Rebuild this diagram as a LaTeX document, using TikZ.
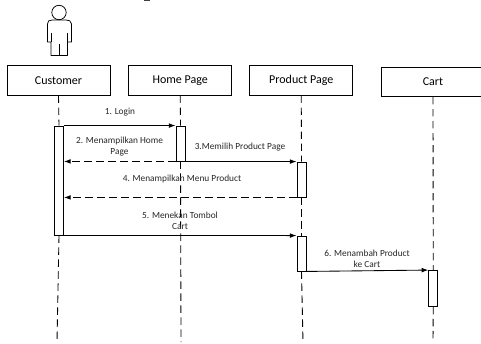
\documentclass[tikz,border=0pt]{standalone}
\usepackage{fontspec}
\setmainfont{Carlito}
\usetikzlibrary{arrows.meta}
\tikzset{
  x=0.75pt,y=-0.75pt,
  objbox/.style={draw,line width=0.65pt,minimum width=77.25pt,minimum height=22pt,inner sep=0pt,font=\fontsize{9}{11}\selectfont,fill=white},
  actbox/.style={draw,line width=0.65pt,minimum width=6.75pt,inner sep=0pt,fill=white},
  life/.style={line width=0.65pt,dash pattern=on 5.5pt off 3.5pt},
  msg/.style={line width=0.65pt,-{Latex[length=5pt,width=3.5pt]}},
  ret/.style={msg,dash pattern=on 5.5pt off 3.5pt},
  lbl/.style={font=\fontsize{7}{8.3}\selectfont,align=center,inner sep=0pt,text=black!85},
  stick/.style={line width=0.55pt,line join=round}
}
\begin{document}
\begin{tikzpicture}
\useasboundingbox (0,0) rectangle (481,343);
\clip (0,0) rectangle (481,343);
% cut-off mark at the top edge
\draw[line width=0.9pt,black!75] (144,0.4) -- (150,0.4);
% actor
\node[draw,circle,line width=0.55pt,minimum size=10.8pt,inner sep=0pt] (head) at (59,12.5) {};
\coordinate (bodyA) at (51,55.5);
\draw[stick] (bodyA) -- (51,42) -- (47.5,42) -- (47.5,24) .. controls (47.5,21) and (49,20) .. (52,20)
  -- (66,20) .. controls (69,20) and (71.5,21) .. (71.5,24) -- (71.5,42) -- (67.5,42) -- (67.5,55.5) -- cycle;
\draw[stick] (51,33) -- (51,42) (67.5,33) -- (67.5,42) (59,44) -- (59,55.5);
% objects
\node[objbox] (cust) at (58.5,80.5) {Customer};
\node[objbox] (home) at (180.25,80.5) {Home Page};
\node[objbox] (prod) at (301.25,80.5) {Product Page};
\node[objbox] (cart) at (433,82) {Cart};
% activations
\node[actbox,minimum height=81.75pt] (a1) at (59,180.5) {};
\node[actbox,minimum height=26.25pt] (a2) at (180.5,143.5) {};
\node[actbox,minimum height=26.25pt] (a3) at (301.5,179.5) {};
\node[actbox,minimum height=26.25pt] (a4) at (301.5,253.5) {};
\node[actbox,minimum height=27pt] (a5) at (433.25,288.5) {};
% lifeline ends
\coordinate (e1) at (57,342);
\coordinate (e2) at (181,342);
\coordinate (e3) at (303,342);
\coordinate (e4) at (433,342);
\draw[life] (cust.south) -- (a1.north);
\draw[life] (a1.south) -- (e1);
\draw[life] (home.south) -- (a2.north);
\draw[life] (a2.south) -- (e2);
\draw[life] (prod.south) -- (a3.north);
\draw[life] (a3.south) -- (a4.north);
\draw[life] (a4.south) -- (e3);
\draw[life] (cart.south) -- (a5.north);
\draw[life] (a5.south) -- (e4);
% messages
\draw[msg] (a1.north east) -- (a2.north west);
\draw[ret] (a2.south west) -- (a1.east |- a2.south west);
\draw[msg] (a2.south east) -- (a3.north west);
\draw[ret] (a3.south west) -- (a1.east |- a3.south west);
\draw[msg] (a1.south east) -- (a4.north west);
\draw[msg] (a4.south east) -- (a5.north west);
% labels
\node[lbl] (m1) at (120,112) {1. Login};
\node[lbl] (m2) at (119.5,147) {2. Menampilkan Home\\Page};
\node[lbl] (m3) at (240,147) {3.Memilih Product Page};
\node[lbl] (m4) at (182,179) {4. Menampilkan Menu Product};
\node[lbl] (m5) at (180,220.5) {5. Menekan Tombol\\Cart};
\node[lbl] (m6) at (367,258.5) {6. Menambah Product\\ke Cart};
\end{tikzpicture}
\end{document}
